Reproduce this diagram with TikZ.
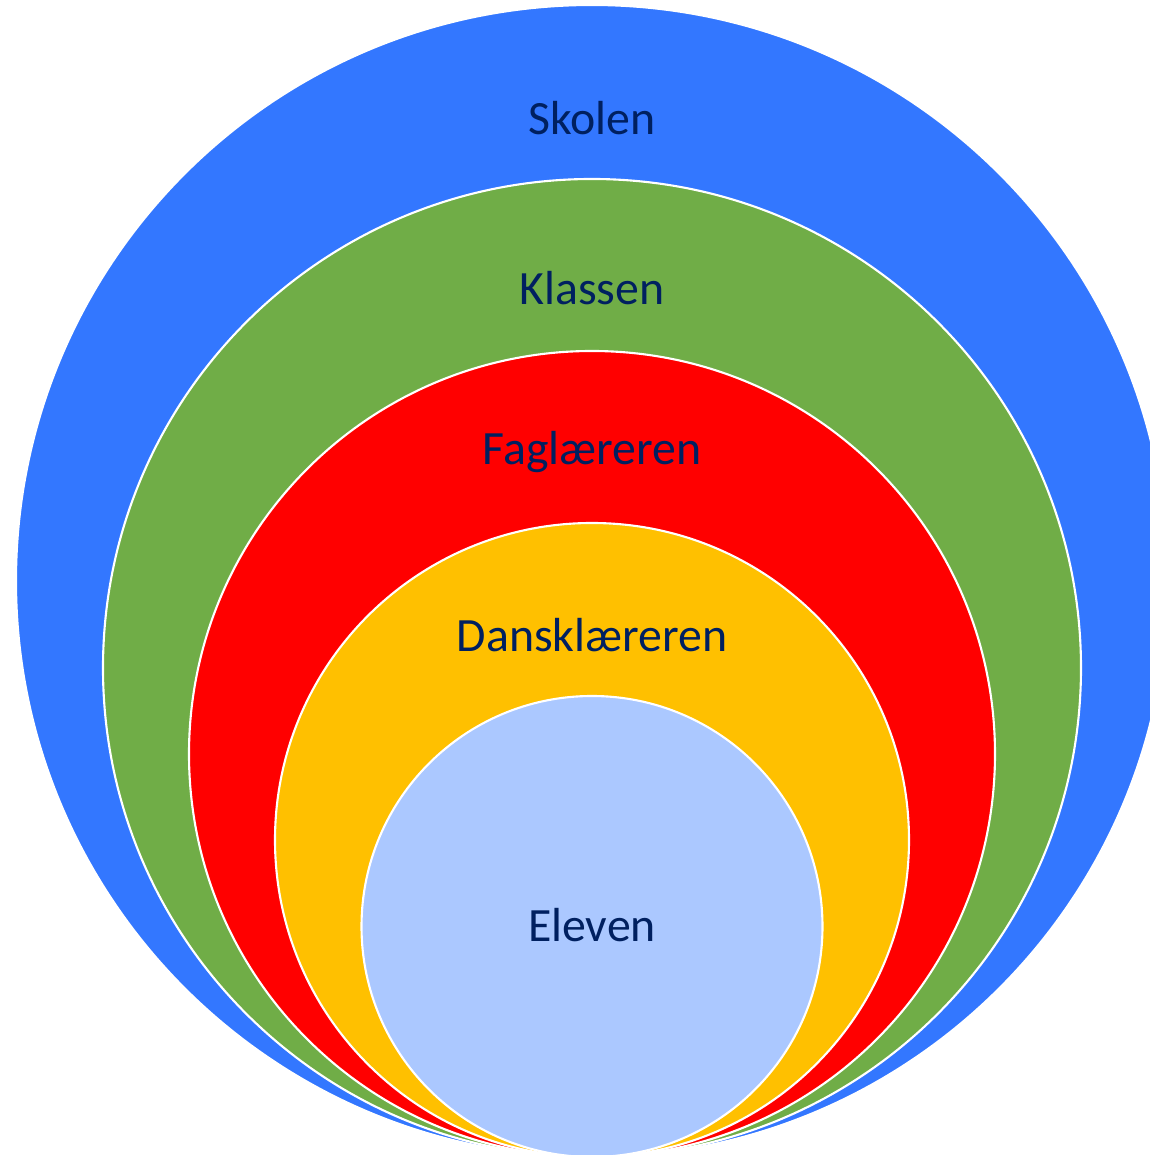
\documentclass[tikz,border=0pt]{standalone}
\usepackage{fontspec}
\setmainfont{Carlito}
\definecolor{skolblue}{RGB}{51,119,255}
\definecolor{klassgreen}{RGB}{112,173,71}
\definecolor{fagred}{RGB}{255,0,0}
\definecolor{danskyellow}{RGB}{255,192,0}
\definecolor{elevblue}{RGB}{171,200,255}
\definecolor{labelnavy}{RGB}{0,32,96}
\tikzset{
  ring/.style={circle,draw=white,line width=0.6pt,inner sep=0pt,minimum size=#1},
  ringlabel/.style={anchor=base,text=labelnavy,font=\fontsize{13.6}{16}\selectfont}
}
\begin{document}
\begin{tikzpicture}
\useasboundingbox (-5.92,0.02) rectangle (5.58,11.57);
\clip (-5.92,0.02) rectangle (5.58,11.57);
%rings, all touching at the bottom
\foreach \r/\c/\n in {5.76/skolblue/skolen,4.89/klassgreen/klassen,4.03/fagred/fag,3.17/danskyellow/dansk,2.305/elevblue/eleven}
{
\node[ring=2*\r cm,fill=\c] (ring-\n) at (0,\r) {};
}
%labels
\node[ringlabel] (lbl-skolen) at (0,10.22) {Skolen};
\node[ringlabel] (lbl-klassen) at (0,8.52) {Klassen};
\node[ringlabel] (lbl-fag) at (0,6.92) {Faglæreren};
\node[ringlabel] (lbl-dansk) at (0,5.05) {Dansklæreren};
\node[ringlabel] (lbl-eleven) at (0,2.15) {Eleven};
\end{tikzpicture}
\end{document}
